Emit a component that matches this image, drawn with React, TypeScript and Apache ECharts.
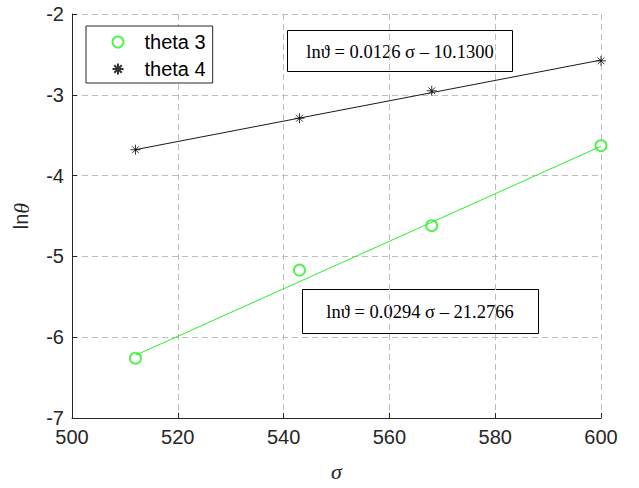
import React, { useEffect, useRef } from "react";
import * as echarts from "echarts";

// Measured points
const sigma3 = [512, 543, 568, 600];
const lnTheta3 = [-6.26, -5.17, -4.62, -3.63];
const sigma4 = [512, 543, 568, 600];
const lnTheta4 = [-3.68, -3.29, -2.95, -2.58];

// Linear fits: lnθ = slope·σ + intercept
const fit3 = { slope: 0.0294, intercept: -21.2766 };
const fit4 = { slope: 0.0126, intercept: -10.13 };
const fitRange = [512, 600];

// Axis ranges
const xMin = 500;
const xMax = 600;
const xStep = 20;
const yMin = -7;
const yMax = -2;
const yStep = 1;

const seriesNames = ["theta 3", "theta 4"];

const SANS = '"Liberation Sans", Arial, Helvetica, sans-serif';
const SERIF = '"Liberation Serif", "Times New Roman", serif';
const GREEN = "#2bef2b";
const INK = "#262626";

const STAR = "path://M5,0L5,10M0,5L10,5M1.6,1.6L8.4,8.4M8.4,1.6L1.6,8.4";

const fitLine = (f: { slope: number; intercept: number }) =>
  fitRange.map((s) => [s, f.slope * s + f.intercept]);

const equation = (f: { slope: number; intercept: number }) =>
  `ln\u03D1 = ${f.slope.toFixed(4)} \u03C3 \u2013 ${Math.abs(f.intercept).toFixed(4)}`;

export default function App() {
  const ref = useRef<HTMLDivElement>(null);

  useEffect(() => {
    if (!ref.current) return;
    const chart = echarts.init(ref.current, undefined, { renderer: "svg" });

    const dashed = { show: true, lineStyle: { color: "#bdbdbd", type: [6, 4], width: 1 } };

    chart.setOption({
      animation: false,
      backgroundColor: "#ffffff",
      grid: { left: 72, top: 14, width: 529, height: 404, containLabel: false },
      xAxis: {
        type: "value",
        min: xMin,
        max: xMax,
        interval: xStep,
        name: "\u03C3",
        nameLocation: "middle",
        nameGap: 42,
        nameTextStyle: { fontFamily: SERIF, fontStyle: "italic", fontSize: 22, color: INK },
        axisLine: { show: true, onZero: false, lineStyle: { color: INK, width: 1 } },
        axisTick: { show: true, inside: true, length: 5, lineStyle: { color: INK } },
        axisLabel: { fontFamily: SANS, fontSize: 20, color: INK, margin: 9 },
        splitLine: dashed,
      },
      yAxis: {
        type: "value",
        min: yMin,
        max: yMax,
        interval: yStep,
        name: "{a|ln}{b|\u03B8}",
        nameLocation: "middle",
        nameGap: 40,
        nameTextStyle: {
          rich: {
            a: { fontFamily: SANS, fontSize: 20, color: INK },
            b: { fontFamily: SERIF, fontStyle: "italic", fontSize: 22, color: INK },
          },
        },
        axisLine: { show: true, onZero: false, lineStyle: { color: INK, width: 1 } },
        axisTick: { show: true, inside: true, length: 5, lineStyle: { color: INK } },
        axisLabel: { fontFamily: SANS, fontSize: 20, color: INK, margin: 8 },
        splitLine: dashed,
      },
      legend: {
        data: seriesNames,
        orient: "vertical",
        left: 86,
        top: 26,
        padding: [5, 7, 3, 24],
        itemGap: 5,
        itemWidth: 11,
        itemHeight: 11,
        backgroundColor: "#ffffff",
        borderColor: INK,
        borderWidth: 1,
        borderRadius: 0,
        textStyle: {
          fontFamily: SANS,
          fontSize: 20,
          lineHeight: 22,
          color: "#000",
          padding: [0, 0, 0, 16],
        },
      },
      series: [
        {
          type: "line",
          name: "fit 3",
          data: fitLine(fit3),
          symbol: "none",
          lineStyle: { color: GREEN, width: 1 },
          silent: true,
        },
        {
          type: "line",
          name: "fit 4",
          data: fitLine(fit4),
          symbol: "none",
          lineStyle: { color: "#1a1a1a", width: 1 },
          silent: true,
        },
        {
          type: "scatter",
          name: seriesNames[0],
          data: sigma3.map((s, i) => [s, lnTheta3[i]]),
          symbol: "emptyCircle",
          symbolSize: 11,
          itemStyle: { color: GREEN, borderColor: GREEN, borderWidth: 1 },
        },
        {
          type: "scatter",
          name: seriesNames[1],
          data: sigma4.map((s, i) => [s, lnTheta4[i]]),
          symbol: STAR,
          symbolSize: 10,
          itemStyle: { color: "none", borderColor: "#000", borderWidth: 1 },
        },
      ],
      graphic: [
        {
          type: "group",
          z: 100,
          children: [
            {
              type: "rect",
              shape: { x: 287.5, y: 30.5, width: 225, height: 41 },
              style: { fill: "#ffffff", stroke: "#000", lineWidth: 1 },
            },
            {
              type: "text",
              x: 400,
              y: 52,
              style: {
                text: equation(fit4),
                fontFamily: SERIF,
                fontSize: 18.5,
                fill: "#000",
                align: "center",
                verticalAlign: "middle",
              },
            },
            {
              type: "rect",
              shape: { x: 302.5, y: 289.5, width: 236, height: 44 },
              style: { fill: "#ffffff", stroke: "#000", lineWidth: 1 },
            },
            {
              type: "text",
              x: 420,
              y: 312,
              style: {
                text: equation(fit3),
                fontFamily: SERIF,
                fontSize: 18.5,
                fill: "#000",
                align: "center",
                verticalAlign: "middle",
              },
            },
          ],
        },
      ],
    });

    return () => chart.dispose();
  }, []);

  return (
    <div
      ref={ref}
      style={{ position: "fixed", left: 0, top: 0, width: 639, height: 488, background: "#fff" }}
    />
  );
}
